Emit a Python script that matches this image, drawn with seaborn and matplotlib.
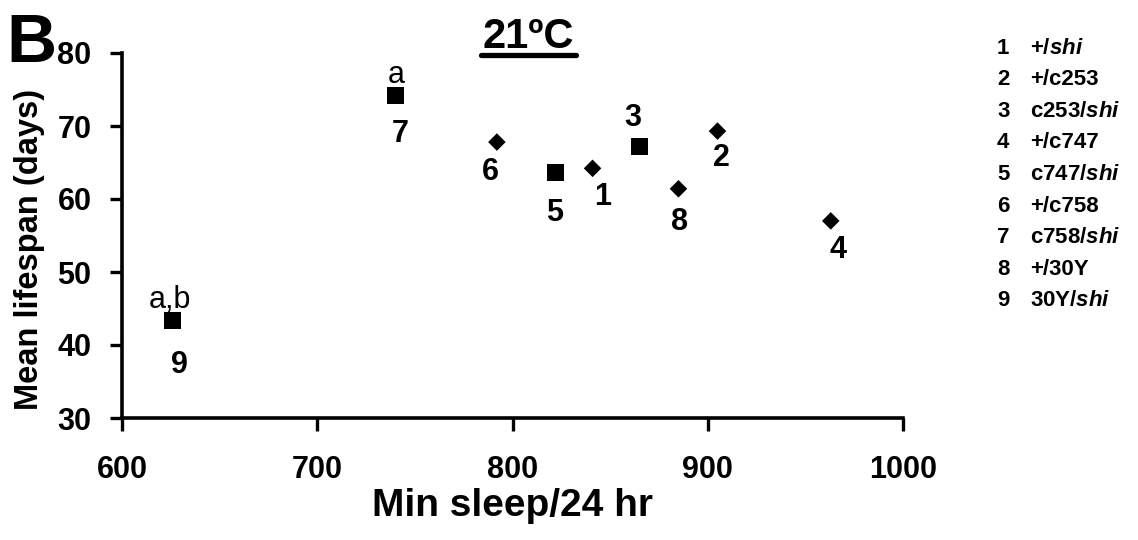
import numpy as np
import pandas as pd
import matplotlib
matplotlib.use('Agg')
import matplotlib.pyplot as plt
from matplotlib.lines import Line2D
import seaborn as sns

# data
genotypes = ['+/shi', '+/c253', 'c253/shi', '+/c747', 'c747/shi',
             '+/c758', 'c758/shi', '+/30Y', '30Y/shi']
min_sleep = [841, 905, 865, 963, 822, 792, 740, 885, 626]
lifespan = [64.2, 69.3, 67.2, 57.0, 63.6, 67.8, 74.2, 61.4, 43.3]
signif = ['', '', '', '', '', '', 'a', '', 'a,b']
x_ticks = [600, 700, 800, 900, 1000]
y_ticks = [30, 40, 50, 60, 70, 80]

df = pd.DataFrame({'num': np.arange(1, len(genotypes) + 1),
                   'genotype': genotypes,
                   'sleep': min_sleep,
                   'life': lifespan,
                   'sig': signif})
df['kind'] = np.where(df['genotype'].str.startswith('+'), 'control', 'shi')

sns.set_style('ticks')
plt.rcParams['font.family'] = ['Liberation Sans', 'DejaVu Sans']
plt.rcParams['mathtext.fontset'] = 'custom'
plt.rcParams['mathtext.it'] = 'Liberation Sans:bold:italic'
plt.rcParams['mathtext.rm'] = 'Liberation Sans:bold'
for k in ['text.color', 'axes.labelcolor', 'xtick.color', 'ytick.color', 'axes.edgecolor']:
    plt.rcParams[k] = 'black'

W, H = 1138, 540
fig = plt.figure(figsize=(W / 100, H / 100), dpi=100)
ax = fig.add_axes([122 / W, 1 - 418 / H, (903 - 122) / W, (418 - 53) / H])

ctrl = df[df['kind'] == 'control']
expt = df[df['kind'] == 'shi']
sns.scatterplot(data=ctrl, x='sleep', y='life', marker='D', s=80, color='black',
                edgecolor='none', ax=ax, zorder=3)
sns.scatterplot(data=expt, x='sleep', y='life', marker='s', s=150, color='black',
                edgecolor='none', ax=ax, zorder=3)

# number labels next to each point (offset in pixels: right, down)
offsets = {1: (10, 29), 2: (4, 27), 3: (-7, -28), 4: (7, 29), 5: (-1, 40),
           6: (-7, 30), 7: (5, 39), 8: (1, 33), 9: (7, 44)}
for _, r in df.iterrows():
    dx, dy = offsets[r['num']]
    ax.annotate(str(r['num']), (r['sleep'], r['life']),
                xytext=(dx * 0.72, -dy * 0.72), textcoords='offset points',
                ha='center', va='center', fontsize=22, fontweight='bold')
    if r['sig']:
        ax.annotate(r['sig'], (r['sleep'], r['life']),
                    xytext=(-2 if r['num'] == 9 else 1, 15), textcoords='offset points',
                    ha='center', va='center', fontsize=22)

ax.set_xlim(600, 1000)
ax.set_ylim(30, 80)
ax.set_xticks(x_ticks)
ax.set_yticks(y_ticks)
ax.tick_params(axis='both', direction='out', length=9, width=2.4,
               labelsize=22)
ax.tick_params(axis='x', pad=18)
ax.tick_params(axis='y', pad=13)
for lab in ax.get_xticklabels() + ax.get_yticklabels():
    lab.set_fontweight('bold')
for sp in ['left', 'bottom']:
    ax.spines[sp].set_linewidth(2.6)
sns.despine(ax=ax)
ax.set_xlabel('Min sleep/24 hr', fontsize=28, fontweight='bold', labelpad=2)
ax.set_ylabel('Mean lifespan (days)', fontsize=23.5, fontweight='bold')
ax.yaxis.set_label_coords(-77 / 781, 0.463)

# panel letter and title
fig.text(6 / W, 1 - 62 / H, 'B', fontsize=50, fontweight='bold', va='baseline')
fig.text(528 / W, 1 - 48 / H, '21ºC', fontsize=30, fontweight='bold',
         ha='center', va='baseline')
fig.add_artist(Line2D([481 / W, 576 / W], [1 - 55 / H, 1 - 55 / H],
                      color='black', lw=3.8, transform=fig.transFigure))

# key on the right
for i, g in enumerate(genotypes):
    y = 1 - (48 + i * 31.6) / H
    fig.text(997 / W, y, str(i + 1), fontsize=16, fontweight='bold', va='center')
    fig.text(1030 / W, y, g.replace('shi', '$shi$'), fontsize=16,
             fontweight='bold', va='center')

fig.savefig('out.png', dpi=100)
